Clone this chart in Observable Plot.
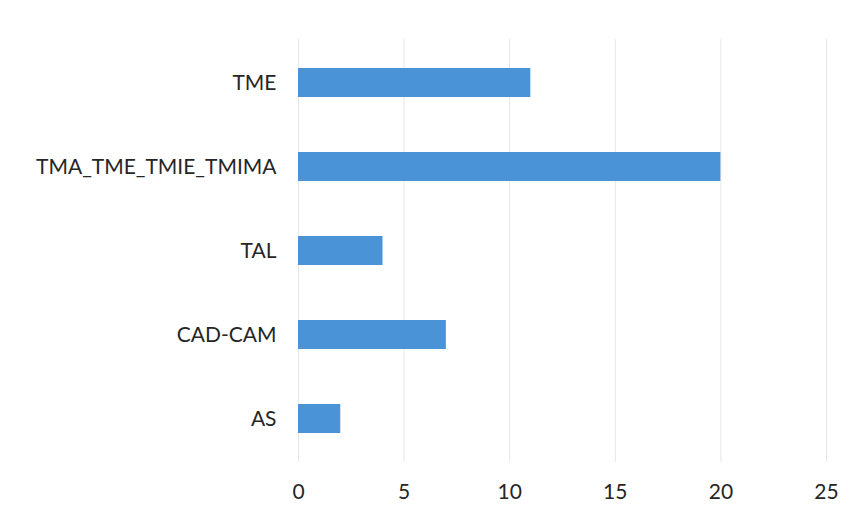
<!DOCTYPE html>
<html>
<head>
<meta charset="utf-8">
<script src="https://cdn.jsdelivr.net/npm/d3@7"></script>
<script src="https://cdn.jsdelivr.net/npm/@observablehq/plot@0.6"></script>
<style>
  html, body { margin: 0; padding: 0; background: #fff; }
  #chart { width: 858px; height: 515px; }
  svg { display: block; }
</style>
</head>
<body>
<div id="chart"></div>
<script>
const categories = ["TME", "TMA_TME_TMIE_TMIMA", "TAL", "CAD-CAM", "AS"];
const values = [11, 20, 4, 7, 2];
const xTicks = [0, 5, 10, 15, 20, 25];

const data = categories.map((c, i) => ({category: c, value: values[i]}));

const chart = Plot.plot({
  width: 858,
  height: 515,
  marginTop: 39,
  marginBottom: 53,
  marginLeft: 298,
  marginRight: 32,
  style: {fontFamily: "Lato, 'Open Sans', sans-serif", fontSize: "21px", color: "#262626", background: "#fff"},
  x: {domain: [0, 25], ticks: xTicks, label: null, tickSize: 0, tickPadding: 22},
  y: {domain: categories, label: null, tickSize: 0, tickPadding: 22, paddingInner: 0.65, paddingOuter: 0.325},
  marks: [
    Plot.gridX(xTicks, {stroke: "#e6e6e6", strokeOpacity: 1, strokeWidth: 1}),
    Plot.barX(data, {x: "value", y: "category", fill: "#4a93d6"}),
    Plot.axisX({ticks: xTicks, tickSize: 0, tickPadding: 22, label: null, fontSize: 21}),
    Plot.axisY({tickSize: 0, tickPadding: 22, label: null, fontSize: 21})
  ]
});
document.getElementById("chart").appendChild(chart);
</script>
</body>
</html>
